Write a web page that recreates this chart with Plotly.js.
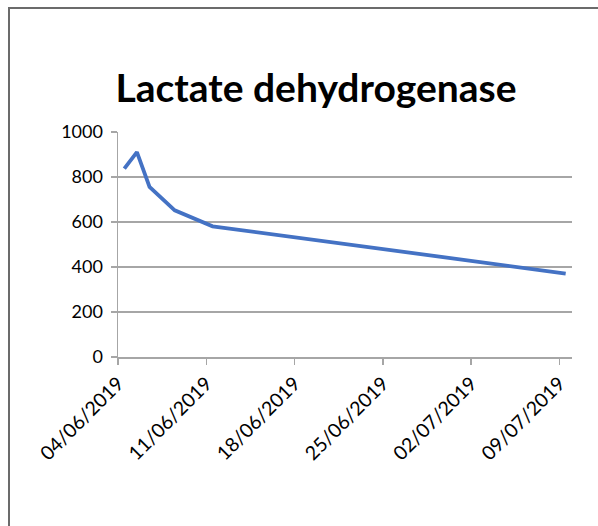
<!DOCTYPE html>
<html>
<head>
<meta charset="utf-8">
<script src="https://cdn.plot.ly/plotly-3.0.1.min.js"></script>
<style>
  body { margin: 0; background: #fff; }
  #wrap { position: relative; width: 598px; height: 526px; overflow: hidden; }
  #chart { position: absolute; left: 0; top: 0; width: 598px; height: 526px; }
  #frame {
    position: absolute; left: 8px; top: 7px; width: 700px; height: 700px;
    border-left: 2px solid #6b6b6b; border-top: 2px solid #6b6b6b;
    pointer-events: none;
  }
</style>
</head>
<body>
<div id="wrap">
  <div id="chart"></div>
  <div id="frame"></div>
</div>
<script>
// sample dates and LDH values
var dates = ['2019-06-04', '2019-06-05', '2019-06-06', '2019-06-08', '2019-06-11', '2019-07-09'];
var ldh = [837, 911, 756, 652, 581, 371];
var tickDates = ['2019-06-04', '2019-06-11', '2019-06-18', '2019-06-25', '2019-07-02', '2019-07-09'];
var tickLabels = ['04/06/2019', '11/06/2019', '18/06/2019', '25/06/2019', '02/07/2019', '09/07/2019'];

var fontFam = 'Lato, Carlito, Calibri, sans-serif';

var dados = [{
    type: 'scatter',
    mode: 'lines',
    x: dates,
    y: ldh,
    xperiod: 86400000,
    xperiodalignment: 'middle',
    line: { color: '#4472C4', width: 3.8 },
    hoverinfo: 'x+y'
}];

var layout = {
    width: 598,
    height: 526,
    margin: { l: 118, r: 26, t: 132, b: 169 },
    paper_bgcolor: 'rgba(0,0,0,0)',
    plot_bgcolor: '#ffffff',
    showlegend: false,
    title: {
        text: '<b>Lactate dehydrogenase</b>',
        font: { family: fontFam, size: 39, color: '#000000' },
        x: 316 / 598,
        xref: 'container',
        xanchor: 'center',
        y: 1 - 88 / 526,
        yref: 'container',
        yanchor: 'middle'
    },
    xaxis: {
        type: 'date',
        range: ['2019-06-04', '2019-07-10'],
        tickvals: tickDates,
        ticktext: tickLabels,
        tickangle: -45,
        tickfont: { family: fontFam, size: 19.5, color: '#000000' },
        ticks: 'outside',
        ticklen: 6,
        tickcolor: '#a6a6a6',
        tickwidth: 1.5,
        showgrid: false,
        showline: true,
        linecolor: '#a6a6a6',
        linewidth: 1.5,
        zeroline: false
    },
    yaxis: {
        range: [0, 1000],
        tickvals: [0, 200, 400, 600, 800, 1000],
        tickfont: { family: fontFam, size: 18, color: '#000000' },
        ticks: 'outside',
        ticklen: 6,
        tickcolor: '#a6a6a6',
        tickwidth: 1.5,
        ticklabelstandoff: 4,
        showgrid: true,
        gridcolor: '#a6a6a6',
        gridwidth: 1.5,
        showline: true,
        linecolor: '#a6a6a6',
        linewidth: 1.5,
        zeroline: false
    }
};

Plotly.newPlot('chart', dados, layout, { displayModeBar: false, staticPlot: true });
</script>
</body>
</html>
